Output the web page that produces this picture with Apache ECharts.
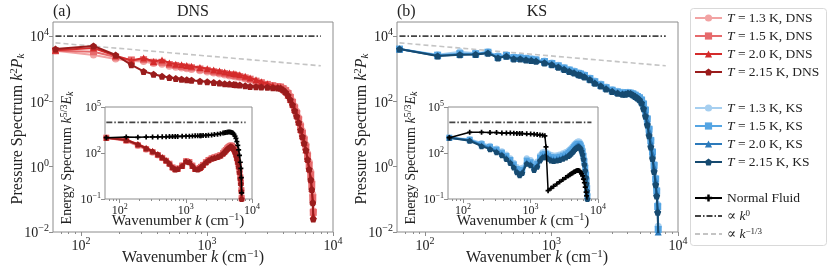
<!DOCTYPE html>
<html><head><meta charset="utf-8">
<script src="https://cdn.jsdelivr.net/npm/echarts@6/dist/echarts.min.js"></script>
<style>html,body{margin:0;padding:0;background:#fff}#c{width:830px;height:277px}</style>
</head><body><div id="c"></div>
<script>
// ---- wavenumbers k (cm^-1) at which spectra are sampled ----
const wavenumbers = [62.8,125.7,188.5,251.3,314.2,377.0,439.8,502.7,565.5,628.3,691.2,754.0,879.6,1005.3,1131.0,1256.6,1382.3,1508.0,1633.6,1696.5,1822.1,2010.6,2199.1,2450.4,2701.8,3015.9,3330.1,3644.2,3832.7,4021.2,4209.7,4398.2,4586.7,4775.2,4963.7,5152.2,5340.7,5529.2,5717.7,5906.2,6094.7,6283.2,6471.7,6660.2,6785.8,6911.5,6974.3];

// ---- main panels: pressure spectrum k^2 P_k ----
const pDNS13  = [3550,2630,2000,1740,1660,1450,1380,1200,1120,1050,1000,955,870,790,740,690,645,600,575,560,540,490,447,398,363,331,309,288,282,257,229,191,145,105,72,50,32,20,12.6,7.9,4.8,2.6,1.41,0.71,0.35,0.14,0.045];
const pDNS15  = [3550,3300,2290,1860,1900,1580,1580,1350,1260,1170,1120,1070,980,890,810,760,710,660,630,615,575,525,479,417,372,331,302,282,275,245,214,174,132,93,63,43,27.5,16.6,10.5,6.6,4.0,2.14,1.12,0.56,0.28,0.112,0.04];
const pDNS20  = [3700,4300,2500,1780,2140,1660,1860,1510,1380,1320,1260,1200,1100,1000,910,850,790,740,710,690,650,590,525,457,398,347,309,282,269,234,200,158,117,83,56,38,24,14.1,8.9,5.6,3.3,1.78,0.89,0.45,0.22,0.089,0.032];
const pDNS215 = [4000,5000,2630,1320,830,680,590,540,500,480,457,447,417,398,380,363,347,339,331,324,316,302,288,282,275,269,263,257,251,224,191,151,112,79,52,35,22.4,13.2,8.3,5.2,3.2,1.66,0.83,0.4,0.2,0.079,0.025];
const pKS13   = [4000,2700,3300,3000,3300,2500,2700,2300,2250,2140,2040,1950,1740,1510,1290,1100,955,850,760,720,650,525,420,340,275,230,204,191,186,190,186,178,162,148,135,117,89,58,31,15,6.9,3.0,1.2,0.45,0.2,0.07,0.015];
const pKS15   = [4000,2600,2900,2900,3200,2350,2550,2200,2150,2050,1950,1860,1660,1450,1230,1050,910,810,720,690,620,500,400,324,263,219,195,182,178,182,178,170,155,141,129,110,83,54,29,14,6.3,2.8,1.1,0.42,0.18,0.06,0.012];
const pKS20   = [4000,2500,2750,2800,3100,2200,2450,2090,2050,1950,1860,1780,1580,1380,1170,1000,870,780,690,660,590,480,380,309,251,209,186,174,170,178,174,162,148,135,120,98,74,48,26,12.6,5.6,2.5,0.98,0.38,0.16,0.05,0.01];
const pKS215  = [4000,2450,2690,2750,3000,2140,2400,2000,2000,1860,1780,1700,1510,1320,1120,955,830,740,660,630,562,460,360,295,240,200,178,166,166,178,174,158,141,126,112,89,60,35,19,8.9,4.0,1.78,0.71,0.28,0.126,0.04,0.008];

// ---- insets: energy spectrum k^{5/3} E_k ----
const eNormalDNS = [1000,1120,1050,1100,1120,1120,1150,1150,1170,1170,1200,1200,1230,1260,1260,1290,1320,1320,1350,1350,1380,1410,1450,1510,1580,1700,1820,2000,2090,2190,2290,2340,2340,2290,2190,2000,1660,1260,890,560,316,158,71,25,10,2.5,0.25];
const eDNS13  = [1000,600,290,165,105,68,45,30,19.5,11.5,8.9,10,16,30,27,16,10,9.5,11,13.5,18,27,37,48,56,65,78,105,135,170,215,260,300,330,316,270,210,150,95,56,31,15.5,7,2.8,1.3,0.4,0.13];
const eDNS15  = [1000,650,320,180,115,74,48,31,20,11.5,8.7,9.5,15,29,26,15,9.3,9,10.5,12.5,16.6,25,35,45,52,60,72,98,126,158,200,240,275,300,288,245,190,135,87,52,29,14.5,6.5,2.6,1.2,0.38,0.12];
const eDNS20  = [1000,740,380,220,138,85,54,35,22,12.3,9.1,9.8,15,30,27,15,9.5,9,10.7,12.8,17,26,35,45,52,60,71,95,120,150,190,224,257,282,270,229,178,126,81,48,27,13.5,6,2.4,1.1,0.35,0.11];
const eDNS215 = [1000,710,355,200,126,79,50,32,20,11.2,8.3,8.9,14.1,28,25,14.1,8.9,8.5,10,12,15.8,24,33,42,48,55,66,89,112,141,178,209,240,263,251,214,166,117,76,45,25,12.6,5.6,2.2,1.0,0.32,0.1];
const eNormalKS = [1000,2240,2240,2140,2140,2000,2000,2000,1950,1900,1900,1860,1780,1740,1660,1580,1510,1450,1320,250,0.35,0.5,0.68,0.95,1.32,1.86,2.5,3.3,3.8,4.5,5.0,5.8,6.3,6.9,7.2,7.2,6.6,5.6,4.4,3.2,2.0,1.15,0.6,0.28,0.16,0.08,0.032];
const eKS13   = [1000,800,450,300,200,130,80,45,23,12,7.5,11,45,35,18,28,71,112,126,117,95,76,68,72,80,95,115,145,175,215,270,340,420,490,550,575,535,435,300,178,89,40,16,5.6,2.2,0.7,0.2];
const eKS15   = [1000,740,380,250,165,105,63,35,18,9,5.6,8,32,25,12.6,20,50,79,89,83,68,54,49,52,58,68,82,102,124,152,190,240,295,348,390,410,380,310,214,126,63,28,11,3.9,1.6,0.5,0.15];
const eKS20   = [1000,680,320,210,135,85,50,28,14.1,7.1,4.5,6.3,25,20,10,16,40,63,71,66,54,43,39,42,46,54,65,81,98,120,150,190,234,275,310,324,300,245,170,100,50,22,8.9,3.1,1.25,0.4,0.12];
const eKS215  = [1000,630,280,178,112,71,40,22,11.2,5.6,3.5,5,20,15.8,7.9,12.6,32,50,56,52,42,33,30,32,35,42,50,63,76,93,117,148,182,214,240,251,234,191,132,79,40,17.8,7.1,2.5,1.0,0.32,0.1];

// ---- reference power laws (end points) ----
const refK = [62.8, 8000];
const refK0 = [1e4, 1e4];
const refKm13 = [6200, 1230];

// ---- ticks ----
const majorX = [100, 1000, 10000];
const minorX = [70,80,90,200,300,400,500,600,700,800,900,2000,3000,4000,5000,6000,7000,8000,9000];
const majorYMain = [0.01, 1, 100, 10000];
const majorYInset = [0.1, 100, 100000];

const FONT = '"Liberation Serif","DejaVu Serif",serif';
const INK = '#222';
const SPINE = '#8c8c8c';

const names = {
  d13:'T = 1.3 K, DNS', d15:'T = 1.5 K, DNS', d20:'T = 2.0 K, DNS', d215:'T = 2.15 K, DNS',
  k13:'T = 1.3 K, KS', k15:'T = 1.5 K, KS', k20:'T = 2.0 K, KS', k215:'T = 2.15 K, KS',
  nf:'Normal Fluid', k0:'∝ k^0', km:'∝ k^-1/3'
};
const legendRich = {
  '∝ k^0': '∝ {i|k}{s|0}',
  '∝ k^-1/3': '∝ {i|k}{s|−1/3}',
  'Normal Fluid': 'Normal Fluid'
};
function legendFmt(n){ if (legendRich[n]) return legendRich[n]; return n.replace(/^T/, '{i|T}'); }

const PENT = 'path://M50,0 L97.6,34.5 L79.4,90.5 L20.6,90.5 L2.4,34.5 Z';
const PLUS = 'path://M33,0H67V33H100V67H67V100H33V67H0V33H33Z';

const C = {
  d13:'#f2a3a3', d15:'#e66a6c', d20:'#d42b2b', d215:'#9a1c1c',
  k13:'#a6cff0', k15:'#55a5e3', k20:'#2c7abb', k215:'#164a70'
};

function pts(vals){ const out=[]; wavenumbers.forEach((k,i)=>{ if(vals[i]!=null) out.push([k, vals[i]]); }); return out; }
function line(name, vals, ax, color, symbol, size, z, lw){
  return {type:'line', name, xAxisIndex:ax.x, yAxisIndex:ax.y, data:pts(vals), symbol, symbolSize:size,
    lineStyle:{color, width:lw||2}, itemStyle:{color}, z, animation:false, clip:true, emphasis:{disabled:true}};
}
function refLine(name, ys, ax, color, type, lw){
  return {type:'line', name, xAxisIndex:ax.x, yAxisIndex:ax.y, data:refK.map((k,i)=>[k, ys[i]]), symbol:'none',
    lineStyle:{color, width:lw, type}, itemStyle:{color}, z:1, animation:false, emphasis:{disabled:true}};
}

function supLabel(v){
  const e = Math.round(Math.log10(v));
  return '{b|10}{s|' + (e<0 ? '−'+(-e) : e) + '}';
}
function tickRich(fs){
  return {
    b:{fontSize:fs, fontFamily:FONT, color:INK, verticalAlign:'bottom'},
    s:{fontSize:Math.round(fs*0.7), fontFamily:FONT, color:INK, verticalAlign:'top', padding:[0,0,Math.round(fs*0.5),0]}
  };
}
function xAxes(grid, fs){
  return [
    {type:'log', gridIndex:grid, min:60, max:10000, position:'bottom', axisLine:{show:false}, splitLine:{show:false},
      axisTick:{show:true, customValues:majorX, length:4, lineStyle:{color:SPINE}},
      axisLabel:{customValues:majorX, formatter:supLabel, rich:tickRich(fs), margin:4}},
    {type:'log', gridIndex:grid, min:60, max:10000, position:'bottom', axisLine:{show:false}, splitLine:{show:false},
      axisTick:{show:true, customValues:minorX, length:2, lineStyle:{color:SPINE}},
      axisLabel:{show:false}}
  ];
}
function yAxis(grid, min, max, major, fs){
  return {type:'log', gridIndex:grid, min, max, axisLine:{show:false}, splitLine:{show:false},
    axisTick:{show:true, customValues:major, length:4, lineStyle:{color:SPINE}},
    axisLabel:{customValues:major, formatter:supLabel, rich:tickRich(fs), margin:4}};
}

const gridA = {left:53, top:22, width:280, height:210, show:true, borderColor:SPINE, borderWidth:1, backgroundColor:'transparent'};
const gridB = {left:397, top:22, width:281, height:210, show:true, borderColor:SPINE, borderWidth:1, backgroundColor:'transparent'};
const gridIA = {left:105, top:107, width:147, height:92, show:true, borderColor:SPINE, borderWidth:1, backgroundColor:'#fff'};
const gridIB = {left:448, top:107, width:150, height:92, show:true, borderColor:SPINE, borderWidth:1, backgroundColor:'#fff'};

const xs = [].concat(xAxes(0,14), xAxes(1,14), xAxes(2,12), xAxes(3,12));
const ys = [yAxis(0,0.01,27000,majorYMain,14), yAxis(1,0.01,27000,majorYMain,14), yAxis(2,0.1,1e5,majorYInset,12), yAxis(3,0.1,1e5,majorYInset,12)];

const A = {x:0,y:0}, B = {x:2,y:1}, IA = {x:4,y:2}, IB = {x:6,y:3};
const DASHDOT = [6,2,1.5,2];

const series = [
  refLine(names.k0, refK0, A, '#444', DASHDOT, 1.8),
  refLine(names.km, refKm13, A, '#c4c4c4', [5,3], 1.6),
  refLine(names.k0, refK0, B, '#444', DASHDOT, 1.8),
  refLine(names.km, refKm13, B, '#c4c4c4', [5,3], 1.6),
  refLine(names.k0, refK0, IA, '#444', DASHDOT, 1.8),
  refLine(names.k0, refK0, IB, '#444', DASHDOT, 1.8),

  line(names.d13, pDNS13, A, C.d13, 'circle', 7, 3),
  line(names.d15, pDNS15, A, C.d15, 'rect', 7, 4),
  line(names.d20, pDNS20, A, C.d20, 'triangle', 7, 5),
  line(names.d215, pDNS215, A, C.d215, PENT, 7, 6),

  line(names.k13, pKS13, B, C.k13, 'circle', 7, 3),
  line(names.k15, pKS15, B, C.k15, 'rect', 7, 4),
  line(names.k20, pKS20, B, C.k20, 'triangle', 7, 5),
  line(names.k215, pKS215, B, C.k215, PENT, 7, 6),

  line(names.d13, eDNS13, IA, C.d13, 'circle', 6, 13),
  line(names.d15, eDNS15, IA, C.d15, 'rect', 6, 14),
  line(names.d20, eDNS20, IA, C.d20, 'triangle', 6, 15),
  line(names.d215, eDNS215, IA, C.d215, PENT, 6, 16),
  line(names.nf, eNormalDNS, IA, '#000', PLUS, 5, 17, 1.5),

  line(names.k13, eKS13, IB, C.k13, 'circle', 6, 13),
  line(names.k15, eKS15, IB, C.k15, 'rect', 6, 14),
  line(names.k20, eKS20, IB, C.k20, 'triangle', 6, 15),
  line(names.k215, eKS215, IB, C.k215, PENT, 6, 16),
  line(names.nf, eNormalKS, IB, '#000', PLUS, 5, 17, 1.5)
];

function rich(fs){
  return {
    i:{fontStyle:'italic', fontFamily:FONT, fontSize:fs, fill:INK},
    s:{fontFamily:FONT, fontSize:Math.round(fs*0.68), padding:[0,0,Math.round(fs*0.45),0], verticalAlign:'top', fill:INK},
    sub:{fontStyle:'italic', fontFamily:FONT, fontSize:Math.round(fs*0.68), padding:[Math.round(fs*0.4),0,0,0], verticalAlign:'bottom', fill:INK}
  };
}
function txt(x, y, text, fs, rot, align){
  return {type:'text', x, y, rotation:rot||0, z:100, silent:true,
    style:{text, fontFamily:FONT, fontSize:fs, fill:INK, align:align||'center', verticalAlign:'middle', rich:rich(fs)}};
}

const graphic = [
  txt(53, 12, '(a)', 16, 0, 'left'),
  txt(193, 12, 'DNS', 16),
  txt(397, 12, '(b)', 16, 0, 'left'),
  txt(537, 12, 'KS', 16),
  txt(193, 258, 'Wavenumber {i|k} (cm{s|−1})', 16),
  txt(537, 258, 'Wavenumber {i|k} (cm{s|−1})', 16),
  txt(18, 129, 'Pressure Spectrum {i|k}{s|2}{i|P}{sub|k}', 16, Math.PI/2),
  txt(362, 129, 'Pressure Spectrum {i|k}{s|2}{i|P}{sub|k}', 16, Math.PI/2),
  txt(178, 221, 'Wavenumber {i|k} (cm{s|−1})', 15),
  txt(523, 221, 'Wavenumber {i|k} (cm{s|−1})', 15),
  txt(67, 158, 'Energy Spectrum {i|k}{s|5/3}{i|E}{sub|k}', 14, Math.PI/2),
  txt(411, 158, 'Energy Spectrum {i|k}{s|5/3}{i|E}{sub|k}', 14, Math.PI/2),
  {type:'rect', z:0, silent:true, shape:{x:690.5, y:8.5, width:136, height:237, r:3}, style:{fill:'#fff', stroke:'#d9d9d9', lineWidth:1}}
];

const HIDE = {color:'rgba(0,0,0,0)', borderColor:'rgba(0,0,0,0)', borderWidth:0};
function legend(data, top){
  return {data, orient:'vertical', left:694, top, itemWidth:27, itemHeight:9, itemGap:4, padding:0, selectedMode:false,
    formatter:legendFmt,
    textStyle:{fontFamily:FONT, fontSize:13.5, color:INK, lineHeight:14,
      rich:{i:{fontStyle:'italic', fontFamily:FONT, fontSize:13.5, color:INK},
            s:{fontFamily:FONT, fontSize:9, color:INK, padding:[0,0,6,0], verticalAlign:'top'}}}};
}

const chart = echarts.init(document.getElementById('c'), null, {renderer:'canvas'});
chart.setOption({
  animation:false,
  grid:[gridA, gridB, gridIA, gridIB],
  xAxis:xs, yAxis:ys, series,
  legend:[
    legend([names.d13,names.d15,names.d20,names.d215], 11),
    legend([names.k13,names.k15,names.k20,names.k215], 101),
    legend([names.nf,{name:names.k0, itemStyle:HIDE},{name:names.km, itemStyle:HIDE}], 191)
  ],
  graphic
});
</script></body></html>
